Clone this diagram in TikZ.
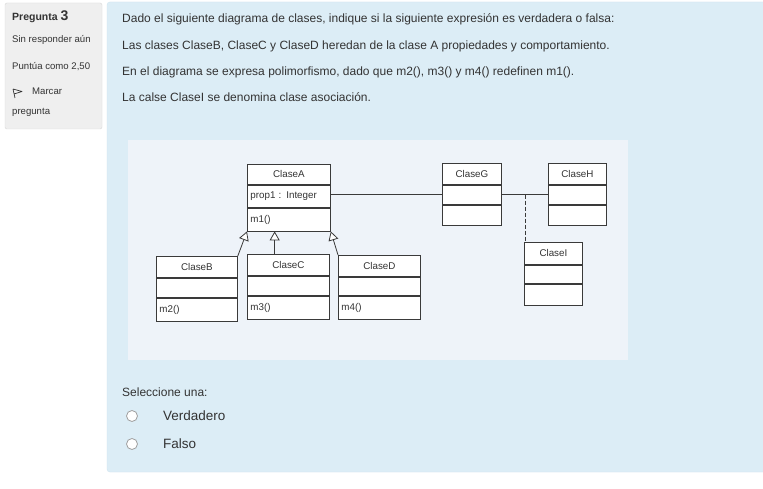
\documentclass[tikz,border=0pt]{standalone}
\usepackage{fontspec}
\setmainfont{Liberation Sans}
\usetikzlibrary{positioning, arrows.meta, calc}

\definecolor{panelblue}{HTML}{DCEDF6}
\definecolor{panelline}{HTML}{CFE4EF}
\definecolor{infogrey}{HTML}{EFEFEF}
\definecolor{infoline}{HTML}{D8D8D8}
\definecolor{diagbg}{HTML}{EEF3F9}
\definecolor{textcol}{HTML}{333333}
\definecolor{umlline}{HTML}{3A3A3A}

\newcommand\umlfont{\fontsize{9.8}{11}\selectfont}

\tikzset{
  qtext/.style={anchor=west, inner sep=0pt, text=textcol, font=\fontsize{12}{14}\selectfont},
  infotext/.style={anchor=west, inner sep=0pt, text=textcol, font=\fontsize{9.6}{11}\selectfont},
  umlbox/.style={draw=umlline, fill=white, line width=0.8pt, inner xsep=3pt, inner ysep=0pt,
    font=\umlfont, text=textcol, text width=#1},
  inherit/.style={draw=umlline, line width=0.8pt, -{Triangle[length=9pt, width=10pt, fill=white]}},
  assoc/.style={draw=umlline, line width=0.8pt},
  radio/.style={circle, draw=gray!75, fill=white, line width=0.8pt, minimum size=11pt, inner sep=0pt},
}

\begin{document}
\begin{tikzpicture}[x=1pt, y=-1pt]
  \useasboundingbox (0,0) rectangle (763,489);
  \clip (0,0) rectangle (763,489);
  \fill[white] (0,0) rectangle (763,489);

  % question info
  \draw[infoline, fill=infogrey, rounded corners=2pt] (5,3) rectangle (102,129);
  \node[infotext, anchor=base west] (qnum) at (12,20.5)
    {\bfseries\fontsize{10.5}{12}\selectfont Pregunta \fontsize{14}{15}\selectfont 3};
  \node[infotext] (qstate) at (12,40) {Sin responder aún};
  \node[infotext] (qgrade) at (12,67) {Puntúa como 2,50};
  \draw[textcol, line width=0.7pt, line join=round] (13,89) -- (15,98) (13,89) -- (22,91.5) -- (14,94);
  \node[infotext] (qflag) at (32,91) {Marcar};
  \node[infotext] (qflag2) at (12,112) {pregunta};

  % formulation panel
  \draw[panelline, fill=panelblue, rounded corners=3pt] (107,2) rectangle (775,472);
  \node[qtext] (q1) at (122,19) {Dado el siguiente diagrama de clases, indique si la siguiente expresión es verdadera o falsa:};
  \node[qtext] (q2) at (122,46) {Las clases ClaseB, ClaseC y ClaseD heredan de la clase A propiedades y comportamiento.};
  \node[qtext] (q3) at (122,72) {En el diagrama se expresa polimorfismo, dado que m2(), m3() y m4() redefinen m1().};
  \node[qtext] (q4) at (122,97) {La calse ClaseI se denomina clase asociación.};

  % class diagram
  \fill[diagbg] (128,140) rectangle (628,360);

  \node[umlbox=77pt, align=center, minimum height=20pt, anchor=north west] (Ah) at (247,164) {ClaseA};
  \node[umlbox=77pt, align=left, minimum height=22pt, below=0pt of Ah] (Aa) {prop1 : Integer};
  \node[umlbox=77pt, align=left, minimum height=23pt, below=0pt of Aa] (Am) {m1()};

  \node[umlbox=75pt, align=center, minimum height=21pt, anchor=north west] (Bh) at (156,256) {ClaseB};
  \node[umlbox=75pt, minimum height=19pt, below=0pt of Bh] (Ba) {};
  \node[umlbox=75pt, align=left, minimum height=23pt, below=0pt of Ba] (Bm) {m2()};

  \node[umlbox=76pt, align=center, minimum height=21pt, anchor=north west] (Ch) at (247,254) {ClaseC};
  \node[umlbox=76pt, minimum height=19pt, below=0pt of Ch] (Ca) {};
  \node[umlbox=76pt, align=left, minimum height=23pt, below=0pt of Ca] (Cm) {m3()};

  \node[umlbox=76pt, align=center, minimum height=21pt, anchor=north west] (Dh) at (338,255) {ClaseD};
  \node[umlbox=76pt, minimum height=18pt, below=0pt of Dh] (Da) {};
  \node[umlbox=76pt, align=left, minimum height=23pt, below=0pt of Da] (Dm) {m4()};

  \node[umlbox=53pt, align=center, minimum height=21pt, anchor=north west] (Gh) at (442,163) {ClaseG};
  \node[umlbox=53pt, minimum height=19pt, below=0pt of Gh] (Ga) {};
  \node[umlbox=53pt, minimum height=20pt, below=0pt of Ga] (Gm) {};

  \node[umlbox=52pt, align=center, minimum height=21pt, anchor=north west] (Hh) at (548,163) {ClaseH};
  \node[umlbox=52pt, minimum height=19pt, below=0pt of Hh] (Ha) {};
  \node[umlbox=52pt, minimum height=20pt, below=0pt of Ha] (Hm) {};

  \node[umlbox=52pt, align=center, minimum height=22pt, anchor=north west] (Ih) at (524,242) {ClaseI};
  \node[umlbox=52pt, minimum height=18pt, below=0pt of Ih] (Ia) {};
  \node[umlbox=52pt, minimum height=21pt, below=0pt of Ia] (Im) {};

  % inheritance
  \coordinate (cTip) at ($(Am.south west)!0.33!(Am.south east)$);
  \draw[inherit] (Bh.north east) -- (Am.south west);
  \draw[inherit] (Ch.north -| cTip) -- (cTip);
  \draw[inherit] (Dh.north west) -- (Am.south east);

  % association
  \draw[assoc] (Aa.east |- Ga.west) -- (Ga.west);
  \draw[assoc] (Ga.east) -- coordinate[pos=0.5] (link) (Ha.west);
  \draw[assoc, dash pattern=on 4pt off 2pt] (link) -- (link |- Ih.north);

  % answers
  \node[qtext] (choose) at (122,392) {Seleccione una:};
  \node[radio] (rTrue) at (132,416) {};
  \node[radio] (rFalse) at (132,444) {};
  \node[qtext, font=\fontsize{13.5}{15}\selectfont, right=25pt of rTrue] (aTrue) {Verdadero};
  \node[qtext, font=\fontsize{13.5}{15}\selectfont, right=25pt of rFalse] (aFalse) {Falso};
\end{tikzpicture}
\end{document}
